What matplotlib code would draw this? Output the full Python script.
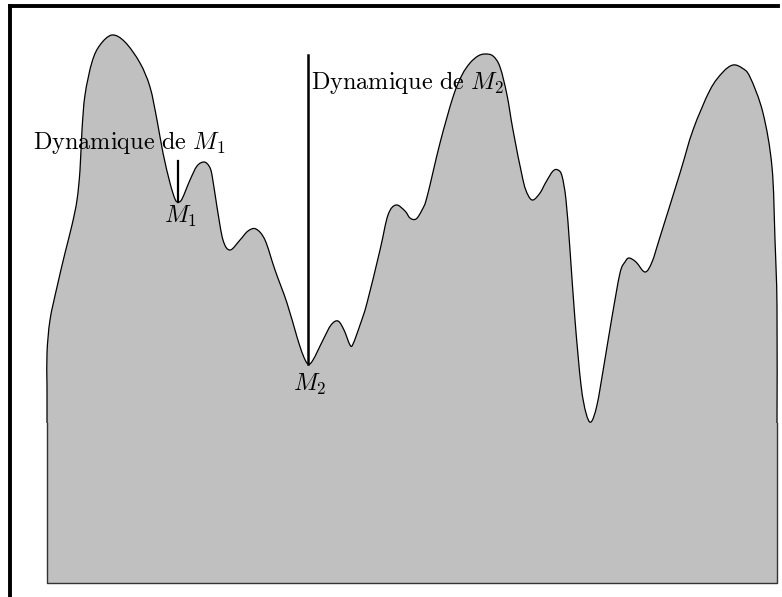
import numpy as np
import matplotlib.pyplot as plt
from matplotlib.path import Path
from matplotlib.patches import PathPatch

plt.rcParams['mathtext.fontset'] = 'cm'

# profile of the relief (pixel x, pixel y; y grows downward)
prof_x = [47, 47, 47, 50, 57, 65, 72, 77, 80, 82, 85, 92, 100, 112, 125, 140, 150, 157,
          163, 170, 175, 178, 182, 190, 197, 204, 209, 212, 217, 223, 230, 240, 248, 256,
          265, 275, 287, 297, 303, 308, 313, 323, 331, 338, 344, 350, 353,
          360, 367, 380, 388, 396, 405, 410, 416, 422, 427, 440, 453, 462, 470, 478, 485,
          493, 500, 507, 513, 523, 528, 533, 540, 546, 553, 558, 562, 566, 570, 575,
          581, 586, 591, 597, 604, 612, 620, 625, 629, 636, 645, 652, 660, 680, 693,
          710, 723, 733, 742, 750, 763, 772, 775, 777, 777]
prof_y = [423, 387, 353, 320, 287, 253, 225, 200, 170, 130, 95, 62, 45, 35, 42, 63, 87, 120,
          153, 183, 199, 202, 199, 180, 166, 162, 166, 175, 207, 240, 250, 240, 231, 229,
          240, 270, 303, 337, 355, 364, 360, 340, 325, 321, 330, 345, 344,
          325, 303, 250, 215, 205, 211, 218, 219, 210, 197, 143, 97, 75, 63, 56, 54,
          56, 67, 95, 130, 180, 195, 200, 193, 182, 171, 170, 176, 200, 250, 320,
          385, 413, 422, 405, 365, 317, 273, 262, 258, 262, 272, 262, 237, 173, 130,
          90, 72, 65, 68, 77, 113, 167, 240, 307, 423]
base_y = 583


def smooth_path(xs, ys, closed_base=None):
    # Catmull-Rom through the read points, drawn as cubic Bezier segments
    p = np.column_stack([xs, ys]).astype(float)
    p_ext = np.vstack([p[0], p, p[-1]])
    verts, codes = [], []
    if closed_base is not None:
        verts.append((p[0, 0], closed_base))
        codes.append(Path.MOVETO)
        verts.append(tuple(p[0]))
        codes.append(Path.LINETO)
    else:
        verts.append(tuple(p[0]))
        codes.append(Path.MOVETO)
    for i in range(1, len(p_ext) - 2):
        p0, p1, p2, p3 = p_ext[i - 1], p_ext[i], p_ext[i + 1], p_ext[i + 2]
        c1 = p1 + (p2 - p0) / 6.0
        c2 = p2 - (p3 - p1) / 6.0
        verts += [tuple(c1), tuple(c2), tuple(p2)]
        codes += [Path.CURVE4] * 3
    if closed_base is not None:
        verts.append((p[-1, 0], closed_base))
        codes.append(Path.LINETO)
        verts.append((p[0, 0], closed_base))
        codes.append(Path.CLOSEPOLY)
    return Path(verts, codes)


fig = plt.figure(figsize=(7.82, 5.97), dpi=100)
ax = fig.add_axes([0, 0, 1, 1])
ax.set_xlim(0, 782)
ax.set_ylim(597, 0)
ax.axis('off')

ax.add_patch(PathPatch(smooth_path(prof_x, prof_y, base_y), facecolor='#c0c0c0',
                       edgecolor='none', zorder=1))
ax.add_patch(PathPatch(smooth_path(prof_x, prof_y), facecolor='none',
                       edgecolor='black', linewidth=0.9, zorder=2))
ax.plot([prof_x[0], prof_x[0], prof_x[-1], prof_x[-1]],
        [prof_y[0], base_y, base_y, prof_y[-1]], color='#333333', linewidth=1.0, zorder=2)

# frame: only left and top borders
ax.plot([9.5, 9.5], [597, 6], color='black', linewidth=2.8, solid_capstyle='projecting')
ax.plot([9.5, 778], [6, 6], color='black', linewidth=2.8)

# dynamics markers
ax.plot([178, 178], [161, 202], color='black', linewidth=1.6)
ax.plot([308, 308], [55, 364], color='black', linewidth=1.8)

fs = 17.5
ax.text(129, 142, r'$\mathrm{Dynamique\ de}\ M_1$', fontsize=fs, ha='center', va='center')
ax.text(180, 216, r'$M_1$', fontsize=fs, ha='center', va='center')
ax.text(311, 82, r'$\mathrm{Dynamique\ de}\ M_2$', fontsize=fs, ha='left', va='center')
ax.text(310, 384, r'$M_2$', fontsize=fs, ha='center', va='center')

fig.savefig('out.png', dpi=100)
